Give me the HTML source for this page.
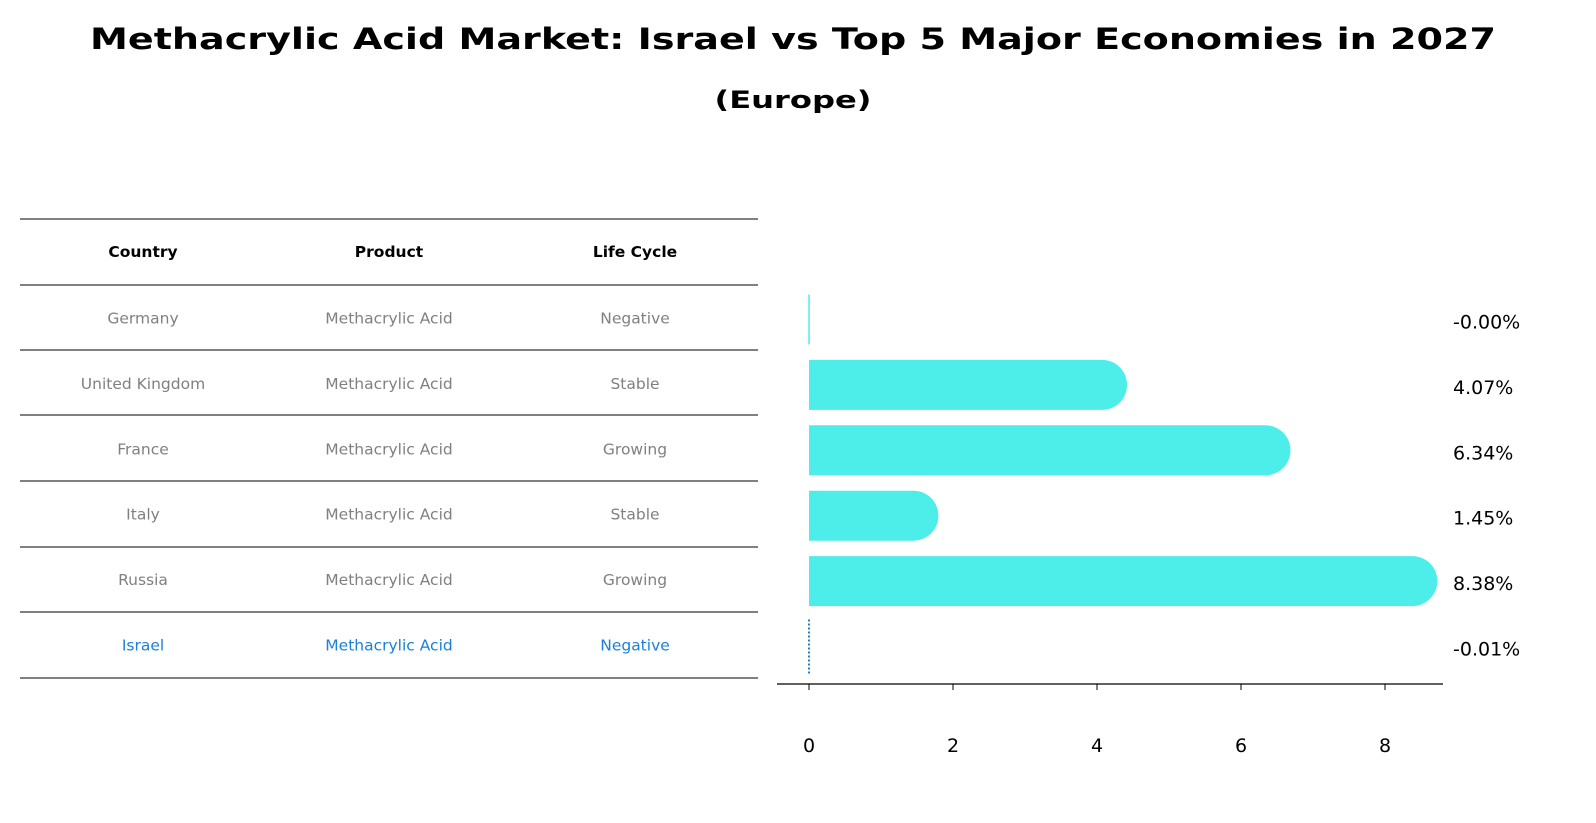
<!DOCTYPE html>
<html><head><meta charset="utf-8"><style>
body{margin:0;background:#fff;font-family:"DejaVu Sans",sans-serif;}
#wrap{position:relative;width:1596px;height:823px;overflow:hidden;}
</style></head><body>
<div id="wrap">
<svg id="svg" width="1596" height="823" style="position:absolute;left:0;top:0">
<text x="793" y="49" text-anchor="middle" font-size="29" font-weight="bold" font-family="DejaVu Sans, sans-serif" textLength="1406" lengthAdjust="spacingAndGlyphs">Methacrylic Acid Market: Israel vs Top 5 Major Economies in 2027</text>
<text x="793" y="108" text-anchor="middle" font-size="24" font-weight="bold" font-family="DejaVu Sans, sans-serif" textLength="157" lengthAdjust="spacingAndGlyphs">(Europe)</text>
</svg>
</div>
<script>
const countries=["Germany","United Kingdom","France","Italy","Russia","Israel"];
const products=["Methacrylic Acid","Methacrylic Acid","Methacrylic Acid","Methacrylic Acid","Methacrylic Acid","Methacrylic Acid"];
const lifeCycles=["Negative","Stable","Growing","Stable","Growing","Negative"];
const growth=[-0.00,4.07,6.34,1.45,8.38,-0.01];
const growthLabels=["-0.00%","4.07%","6.34%","1.45%","8.38%","-0.01%"];
const xTicks=[0,2,4,6,8];
const NS="http://www.w3.org/2000/svg";
const svg=document.getElementById('svg');
const FF='DejaVu Sans, sans-serif';
function mk(tag,attrs,name,text){const e=document.createElementNS(NS,tag);for(const k in attrs)e.setAttribute(k,attrs[k]);


if(text!==undefined)e.textContent=text;svg.appendChild(e);return e;}
const xS=v=>809+v*72;
const rowY=i=>317.5+i*65.4;
const lines=[219,285,350,415,481,547,612,678];
lines.forEach(y=>mk('line',{x1:20,x2:758,y1:y,y2:y,stroke:'#000','stroke-width':1},'table-rule'));
const cols=[143,389,635];
["Country","Product","Life Cycle"].forEach((h,j)=>mk('text',{x:cols[j],y:257,'text-anchor':'middle','font-size':15.5,'font-weight':'bold','font-family':FF},'table-header',h));
countries.forEach((c,i)=>{const col=i===5?'#1a80d8':'#808080';const y=rowY(i)+6;
[c,products[i],lifeCycles[i]].forEach((v,j)=>mk('text',{x:cols[j],y:y,'text-anchor':'middle','font-size':15.5,fill:col,'font-family':FF},'table-cell',v));});
growth.forEach((v,i)=>{const cy=rowY(i)+2;const h=50;
if(i===5){mk('line',{x1:xS(0),x2:xS(0),y1:cy-27,y2:cy+27,stroke:'#1a80d8','stroke-width':2,'stroke-dasharray':'2,2'},'bar-israel');}
else if(Math.abs(v)<0.05){mk('line',{x1:xS(0),x2:xS(0),y1:cy-h/2,y2:cy+h/2,stroke:'#4deeea','stroke-width':1.5},'bar-'+countries[i].toLowerCase().replace(/ /g,'-'));}
else{const x1=xS(v);mk('path',{d:`M${xS(0)},${cy-h/2} L${x1},${cy-h/2} A25,25 0 0 1 ${x1},${cy+h/2} L${xS(0)},${cy+h/2} Z`,fill:'#4deeea'},'bar-'+countries[i].toLowerCase().replace(/ /g,'-'));}
mk('text',{x:1453,y:cy+9,'font-size':19,'font-family':FF},'value-label',growthLabels[i]);});
mk('line',{x1:777,x2:1443,y1:684,y2:684,stroke:'#000','stroke-width':1.2},'x-axis');
xTicks.forEach(t=>{mk('line',{x1:xS(t),x2:xS(t),y1:684,y2:690,stroke:'#000','stroke-width':1},'x-tick');
mk('text',{x:xS(t),y:752,'text-anchor':'middle','font-size':19,'font-family':FF},'x-tick-label',String(t));});
</script>
</body></html>
